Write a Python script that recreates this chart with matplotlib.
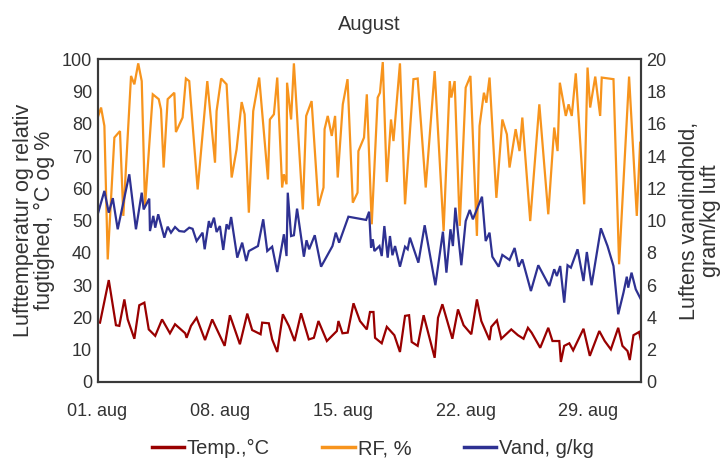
import matplotlib
matplotlib.use("Agg")
import matplotlib.pyplot as plt
from matplotlib import font_manager

# ---------------- data ----------------
temp_days = [0.14, 0.64, 1.05, 1.24, 1.53, 1.72, 2.10, 2.38, 2.67, 2.92, 3.29, 3.68, 4.13, 4.42,
             5.00, 5.08, 5.33, 5.65, 6.13, 6.54, 7.25, 7.55, 8.12, 8.54, 8.82, 9.30, 9.39, 9.77,
             9.96, 10.25, 10.57, 10.91, 11.24, 11.61, 12.05, 12.34, 12.60, 13.08, 13.65, 13.74,
             13.97, 14.27, 14.60, 14.97, 15.36, 15.54, 15.74, 15.83, 16.21, 16.50, 16.93, 17.25,
             17.54, 17.77, 17.92, 18.26, 18.60, 19.23, 19.42, 19.67, 20.24, 20.56, 20.88, 21.32,
             21.64, 21.89, 22.36, 22.46, 22.78, 23.03, 23.60, 23.98, 24.30, 24.55, 24.76, 25.25,
             25.71, 25.95, 26.34, 26.43, 26.62, 26.91, 27.13, 27.72, 28.08, 28.62, 28.93, 29.28,
             29.70, 29.94, 30.23, 30.36, 30.57, 30.89, 30.98]
temp_vals = [18.4, 31.6, 17.6, 17.4, 25.6, 19.4, 13.4, 23.8, 24.6, 16.3, 14.3, 19.4, 15.1, 17.9,
             15.1, 13.7, 17.4, 19.9, 13.0, 19.4, 11.2, 20.7, 11.7, 21.2, 16.1, 14.8, 18.4, 18.2,
             13.2, 9.3, 21.0, 17.4, 12.7, 21.3, 13.2, 13.7, 18.9, 12.7, 15.8, 18.9,
             15.1, 15.3, 24.4, 18.9, 16.3, 21.7, 21.7, 13.7, 12.0, 17.1, 14.5, 9.3,
             20.5, 20.7, 12.4, 11.2, 20.7, 7.5, 19.9, 24.1, 13.4, 22.5, 17.6, 14.8,
             25.6, 18.9, 13.0, 17.1, 19.1, 13.4, 16.3, 14.5, 13.4, 16.8, 15.3, 10.6,
             16.8, 12.7, 12.7, 6.2, 11.2, 12.0, 9.8, 16.5, 8.1, 15.8, 12.7, 10.1,
             16.8, 11.2, 9.6, 6.8, 14.5, 15.5, 13.2]

rf_days = [0.01, 0.20, 0.39, 0.58, 0.96, 1.28, 1.47, 1.91, 2.10, 2.32, 2.52, 2.71, 3.15, 3.49,
           3.62, 3.77, 4.00, 4.38, 4.47, 4.85, 5.04, 5.23, 5.71, 6.26, 6.70, 6.79, 7.05, 7.36,
           7.65, 7.93, 8.22, 8.39, 8.63, 8.88, 9.22, 9.72, 9.83, 10.06, 10.25, 10.53, 10.63,
           10.78, 10.81, 11.04, 11.20, 11.71, 11.90, 12.21, 12.60, 12.89, 12.95, 13.13, 13.36,
           13.55, 13.70, 13.99, 14.26, 14.56, 14.83, 14.88, 15.20, 15.36, 15.64, 15.98, 16.11,
           16.27, 16.50, 16.74, 16.88, 17.25, 17.54, 18.02, 18.26, 18.72, 19.23, 19.74, 20.09,
           20.18, 20.37, 20.66, 21.00, 21.27, 21.64, 21.79, 22.04, 22.18, 22.36, 22.75, 23.09,
           23.35, 23.50, 23.85, 24.07, 24.23, 24.68, 25.20, 25.71, 26.05, 26.24, 26.37, 26.71,
           26.87, 27.05, 27.28, 27.76, 27.95, 28.10, 28.39, 28.67, 28.76, 29.43, 29.75, 30.32,
           30.76, 30.95]
rf_vals = [82.0, 85.1, 79.4, 38.0, 75.8, 77.8, 51.5, 94.9, 92.3, 98.8, 93.3, 54.6, 89.2, 87.7,
           84.5, 66.5, 87.7, 89.7, 77.5, 82.0, 94.1, 93.3, 59.7, 93.3, 68.0, 84.0, 94.1, 92.3,
           63.4, 72.1, 86.8, 83.0, 52.5, 84.0, 94.4, 62.8, 81.4, 83.0, 94.4, 60.3, 64.4,
           61.3, 92.8, 81.4, 98.8, 53.5, 82.5, 87.1, 54.6, 60.3, 78.4, 82.5, 76.3,
           82.5, 63.4, 86.1, 93.9, 55.6, 58.7, 71.6, 75.8, 89.2, 48.9, 88.2, 89.7,
           99.2, 62.0, 81.4, 74.7, 98.8, 55.1, 93.9, 94.1, 60.3, 96.4, 46.8, 93.3,
           88.2, 93.3, 48.4, 91.3, 94.9, 45.3, 79.4, 89.7, 86.6, 94.4, 57.1, 81.4,
           76.8, 66.5, 78.4, 71.6, 82.0, 49.9, 86.1, 52.0, 78.9, 71.6, 92.8, 82.5,
           86.1, 82.5, 95.7, 55.1, 97.5, 85.1, 94.7, 82.5, 94.4, 93.9, 36.5, 94.7,
           51.5, 74.2]

vand_days = [0.01, 0.39, 0.64, 0.87, 1.15, 1.81, 2.19, 2.52, 2.63, 2.95, 2.99, 3.18, 3.29, 3.46,
             3.81, 4.00, 4.19, 4.42, 4.66, 4.95, 5.23, 5.42, 5.65, 5.99, 6.11, 6.35, 6.45, 6.64,
             6.79, 6.98, 7.17, 7.36, 7.49, 7.62, 7.97, 8.25, 8.48, 8.63, 9.15, 9.45, 9.68, 9.96,
             10.25, 10.63, 10.78, 10.85, 11.04, 11.20, 11.38, 11.77, 11.92, 12.07, 12.39, 12.75,
             13.40, 13.59, 13.78, 14.31, 15.32, 15.49, 15.60, 15.70, 15.79, 16.08, 16.21, 16.36,
             16.55, 16.68, 16.82, 16.97, 17.25, 17.54, 17.69, 17.82, 18.30, 18.66, 19.27, 19.70,
             19.90, 20.13, 20.27, 20.41, 20.75, 21.00, 21.23, 21.41, 21.93, 22.14, 22.36, 22.52,
             22.88, 23.09, 23.50, 23.79, 24.02, 24.23, 24.72, 25.14, 25.77, 26.05, 26.20, 26.39,
             26.62, 26.81, 27.00, 27.38, 27.72, 27.91, 28.18, 28.71, 29.09, 29.43, 29.70, 30.00,
             30.19, 30.27, 30.46, 30.70, 30.99]
vand_vals = [10.4, 11.85, 10.5, 11.4, 9.47, 12.88, 9.47, 11.74, 10.7, 11.37, 9.36, 10.3, 9.57, 10.4,
             8.95, 9.63, 9.26, 9.61, 9.36, 9.32, 9.57, 9.5, 8.74, 9.26, 8.23, 9.98, 9.57, 10.19,
             9.3, 9.67, 8.19, 9.78, 9.47, 10.23, 7.71, 8.64, 7.5, 8.12, 8.43, 10.09, 8.12, 8.39,
             6.82, 9.16, 7.81, 11.74, 9.05, 9.1, 10.75, 7.77, 8.79, 8.23, 9.1, 7.15,
             8.43, 9.26, 8.64, 10.25, 10.05, 10.56, 8.33, 8.85, 8.12, 8.43, 7.81, 9.67,
             7.71, 9.05, 7.86, 8.43, 7.15, 8.39, 8.23, 8.95, 7.4, 9.72, 6.0, 9.32,
             6.78, 9.47, 8.43, 10.81, 7.24, 9.98, 10.67, 10.09, 11.49, 8.74, 9.26, 7.77,
             7.15, 7.88, 7.57, 8.31, 7.15, 7.6, 5.64, 7.24, 5.95, 6.99, 6.57, 7.19,
             4.92, 7.24, 7.09, 8.23, 6.26, 8.06, 6.0, 9.53, 8.43, 7.19, 4.2, 5.54,
             6.53, 5.85, 6.78, 5.75, 5.13]

xtick_days = [0, 7, 14, 21, 28]
xtick_labels = ["01. aug", "08. aug", "15. aug", "22. aug", "29. aug"]
left_ticks = [0, 10, 20, 30, 40, 50, 60, 70, 80, 90, 100]
right_ticks = [0, 2, 4, 6, 8, 10, 12, 14, 16, 18, 20]

title = "August"
left_label = "Lufttemperatur og relativ\nfugtighed, °C og %"
right_label = "Luftens vandindhold,\ngram/kg luft"
names = ["Temp.,°C", "RF, %", "Vand, g/kg"]

# ---------------- style ----------------
avail = {f.name for f in font_manager.fontManager.ttflist}
fam = [f for f in ["Liberation Sans Narrow", "Liberation Sans", "DejaVu Sans"] if f in avail]
plt.rcParams["font.family"] = fam
txt = "#333333"
c_temp, c_rf, c_vand = "#990000", "#F7941D", "#2E3192"
fs = 13

fig = plt.figure(figsize=(7.28, 4.63), dpi=100)
ax = fig.add_axes([0.134, 0.175, 0.7465, 0.6965])
ax2 = ax.twinx()

l1, = ax.plot(temp_days, temp_vals, color=c_temp, lw=1.6, solid_joinstyle="miter")
l2, = ax.plot(rf_days, rf_vals, color=c_rf, lw=1.6, solid_joinstyle="miter")
l3, = ax2.plot(vand_days, vand_vals, color=c_vand, lw=1.6, solid_joinstyle="miter")

ax.set_xlim(0, 31)
ax.set_ylim(0, 100)
ax2.set_ylim(0, 20)
ax.set_xticks(xtick_days)
ax.set_xticklabels(xtick_labels)
ax.set_yticks(left_ticks)
ax2.set_yticks(right_ticks)

for a in (ax, ax2):
    a.tick_params(length=0, labelsize=fs, colors=txt, pad=4)
    for s in a.spines.values():
        s.set_color("#3a3a3a")
        s.set_linewidth(1.5)
ax.tick_params(axis="x", pad=15)

ax.set_ylabel(left_label, fontsize=fs + 2.5, color=txt, labelpad=5, linespacing=1.0)
ax2.set_ylabel(right_label, fontsize=fs + 2.5, color=txt, labelpad=9, linespacing=1.0)
fig.text(0.507, 0.948, title, ha="center", va="center", fontsize=fs + 1.5, color=txt)

leg = fig.legend([l1, l2, l3], names, loc="center", bbox_to_anchor=(0.512, 0.031), ncol=3,
                 frameon=False, fontsize=fs + 1.5, handlelength=1.6, handletextpad=0.15,
                 columnspacing=2.6)
for t in leg.get_texts():
    t.set_color(txt)
for h in leg.legend_handles:
    h.set_linewidth(2.5)

fig.savefig("out.png", dpi=100)
